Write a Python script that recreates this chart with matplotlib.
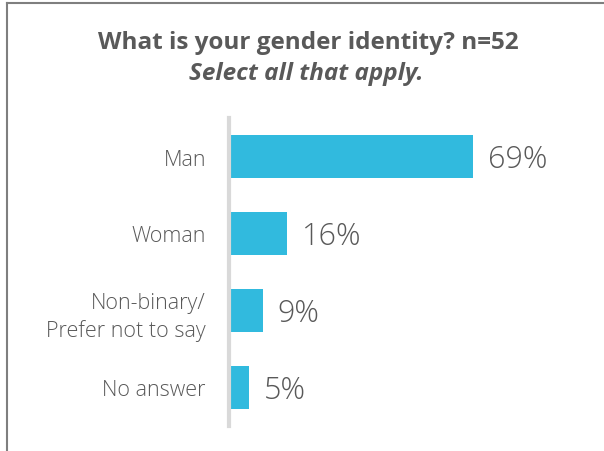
import matplotlib
matplotlib.use("Agg")
import matplotlib.pyplot as plt
from matplotlib.lines import Line2D

categories = ["Man", "Woman", "Non-binary/\nPrefer not to say", "No answer"]
values = [69, 16, 9, 5]
value_labels = ["69%", "16%", "9%", "5%"]

title = "What is your gender identity? n=52"
subtitle = "Select all that apply."

BAR = "#31bade"
TEXT = "#595959"
AXIS = "#d9d9d9"
FRAME = "#7f7f7f"

plt.rcParams["font.family"] = ["Open Sans", "DejaVu Sans"]

W, H = 604, 452
fig = plt.figure(figsize=(W / 100, H / 100), dpi=100)
fig.patch.set_facecolor("white")

# frame lines along top and left edges
fig.add_artist(Line2D([6.5 / W, 1], [1 - 3.5 / H, 1 - 3.5 / H], transform=fig.transFigure,
                      color=FRAME, lw=1.5))
fig.add_artist(Line2D([6.5 / W, 6.5 / W], [0, 1 - 3.5 / H], transform=fig.transFigure,
                      color=FRAME, lw=1.5))

left_px, right_px = 231, 231 + 3.507 * 100
top_px, bot_px = 119, 427
ax = fig.add_axes([left_px / W, 1 - bot_px / H, (right_px - left_px) / W, (bot_px - top_px) / H])

y = list(range(len(categories)))
ax.barh(y, values, height=0.56, color=BAR, edgecolor="none")
ax.set_xlim(0, 100)
ax.set_ylim(len(categories) - 0.5, -0.5)

for yi, v, lab in zip(y, values, value_labels):
    ax.annotate(lab, (v, yi), xytext=(11, -2), textcoords="offset points",
                ha="left", va="center", fontsize=22, color=TEXT, fontweight="light")

for s in ["top", "right", "bottom"]:
    ax.spines[s].set_visible(False)
ax.spines["left"].set_color(AXIS)
ax.spines["left"].set_linewidth(3)
ax.spines["left"].set_position(("outward", 1.5))
ax.set_xticks([])
ax.set_yticks(y)
ax.set_yticklabels(categories, fontsize=15.5, color=TEXT, linespacing=1.4,
                   fontweight="light")
ax.tick_params(axis="y", length=0, pad=16.5)

fig.text(308 / W, 1 - 43 / H, title, ha="center", va="center", fontsize=17.5,
         fontweight="bold", color=TEXT)
fig.text(306 / W, 1 - 74 / H, subtitle, ha="center", va="center", fontsize=17.5,
         fontweight="bold", style="italic", color=TEXT)

fig.savefig("out.png", dpi=100, facecolor="white")
